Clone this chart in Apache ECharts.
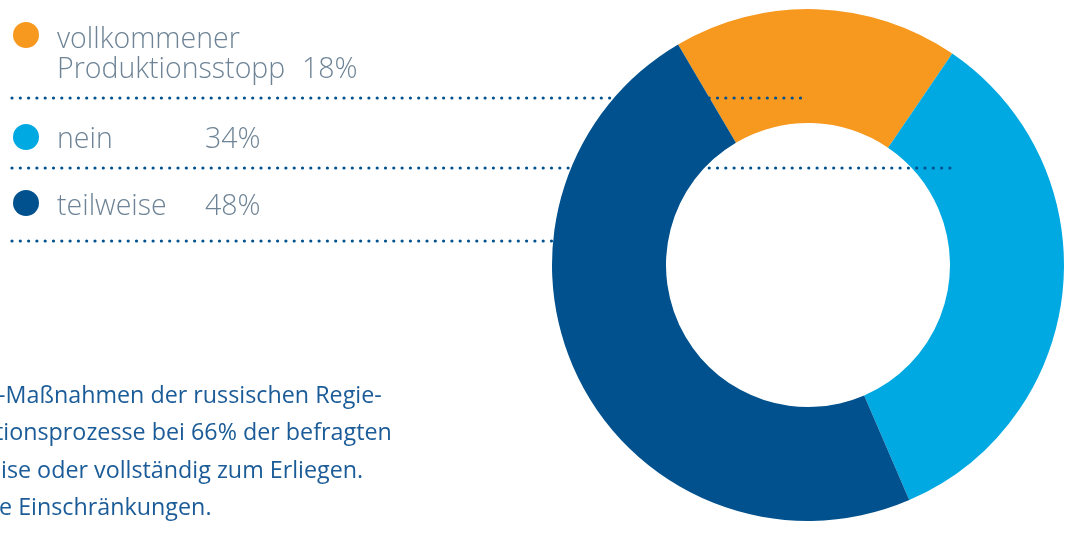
<!DOCTYPE html>
<html>
<head>
<meta charset="utf-8">
<script src="https://cdn.jsdelivr.net/npm/echarts@6/dist/echarts.min.js"></script>
<style>
  html, body { margin: 0; padding: 0; background: #fff; }
  #chart { width: 1082px; height: 534px; }
</style>
</head>
<body>
<div id="chart"></div>
<script>
// Daten
const categories = ['vollkommener\nProduktionsstopp', 'nein', 'teilweise']
const values = [18, 34, 48]
const colors = ['#F7981F', '#00A9E1', '#00518D']
const noteLines = [
  '-Maßnahmen der russischen Regie-',
  'tionsprozesse bei 66% der befragten',
  'ise oder vollständig zum Erliegen.',
  'e Einschränkungen.'
]

const chart = echarts.init(document.getElementById('chart'))

// Legende links: Punkt, Name, Prozent und gepunktete Linie
const dotY = [35, 137, 203]
const nameTop = [25, 125, 192]
const pctX = [302, 205, 205]
const pctTop = [55, 125, 192]
const lineY = [98, 168, 241]
const lineEnd = [808, 953, 560]
const legendFont = '300 28.5px "Open Sans"'

const graphic = []
categories.forEach((name, i) => {
  graphic.push({
    type: 'circle',
    shape: { cx: 26, cy: dotY[i], r: 13 },
    style: { fill: colors[i] }
  })
  graphic.push({
    type: 'text',
    x: 57,
    y: nameTop[i],
    style: { text: name, font: legendFont, fill: '#6E8496', lineHeight: 30, textVerticalAlign: 'top' }
  })
  graphic.push({
    type: 'text',
    x: pctX[i],
    y: pctTop[i],
    style: { text: values[i] + '%', font: legendFont, fill: '#6E8496', lineHeight: 30, textVerticalAlign: 'top' }
  })
  graphic.push({
    type: 'line',
    z: 10,
    shape: { x1: 12, y1: lineY[i], x2: lineEnd[i], y2: lineY[i] },
    style: { stroke: '#00518D', lineWidth: 3.2, lineDash: [0, 8.3], lineCap: 'round' }
  })
})

// Fließtext unten links (am Rand abgeschnitten)
noteLines.forEach((t, i) => {
  graphic.push({
    type: 'text',
    x: [-2, -5, 1, -1][i],
    y: 383 + i * 37.5,
    style: { text: t, font: '23.3px "Open Sans"', fill: '#1B5C98', lineHeight: 26, textVerticalAlign: 'top' }
  })
})

const option = {
  animation: false,
  graphic: graphic,
  series: [
    {
      type: 'pie',
      center: [808, 265],
      radius: [142, 256],
      startAngle: 120.5,
      clockwise: true,
      silent: true,
      label: { show: false },
      labelLine: { show: false },
      data: categories.map((name, i) => ({
        name: name,
        value: values[i],
        itemStyle: { color: colors[i] }
      }))
    }
  ]
}

chart.setOption(option)
window.addEventListener('resize', () => chart.resize())
</script>
</body>
</html>
